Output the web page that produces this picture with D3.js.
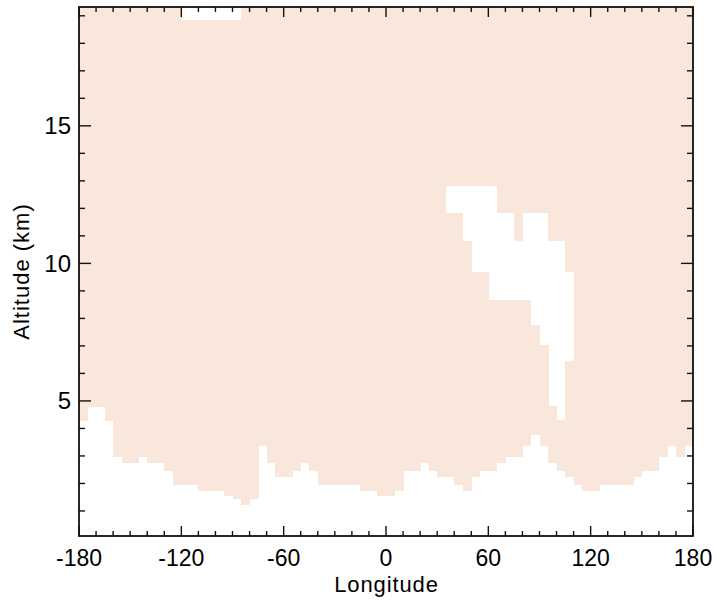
<!DOCTYPE html>
<html>
<head>
<meta charset="utf-8">
<script src="https://cdn.jsdelivr.net/npm/d3@7"></script>
<style>
  html, body { margin: 0; padding: 0; background: #ffffff; }
  svg { display: block; }
  text { font-family: "Liberation Sans", Arial, Helvetica, sans-serif; fill: #000; }
</style>
</head>
<body>
<svg id="chart" width="717" height="600"></svg>
<script>
// ---------------- DATA ----------------
// Longitude bins (start of each 5° bin)
const binStart = [-180,-175,-170,-165,-160,-155,-150,-145,-140,-135,-130,-125,-120,-115,-110,-105,-100,-95,
  -90,-85,-80,-75,-70,-65,-60,-55,-50,-45,-40,-35,-30,-25,-20,-15,-10,-5,
  0,5,10,15,20,25,30,35,40,45,50,55,60,65,70,75,80,85,
  90,95,100,105,110,115,120,125,130,135,140,145,150,155,160,165,170,175];
const binWidth = 5;
// Lowest altitude (km) of the shaded region in each bin (surface / lower limit)
const surfaceAlt = [4.30,4.81,4.81,4.30,2.99,2.78,2.78,2.99,2.78,2.78,2.48,1.97,1.97,1.97,1.75,1.75,1.75,1.57,
  1.47,1.25,1.47,3.39,2.78,2.26,2.26,2.48,2.78,2.48,1.97,1.97,1.97,1.97,1.97,1.75,1.75,1.57,
  1.57,1.75,2.48,2.48,2.78,2.48,2.26,2.26,1.97,1.75,2.26,2.48,2.48,2.78,2.99,2.99,3.39,3.79,
  3.39,2.78,2.48,2.26,1.97,1.75,1.75,1.97,1.97,1.97,1.97,2.26,2.48,2.48,2.99,3.39,2.99,3.39];
// Unshaded gap in the upper region
const gapLon    = [35,40,45,50,55,60,65,70,75,80,85,90,95,100,105];
const gapBottom = [11.84,11.84,10.82,9.69,9.69,8.67,8.67,8.67,8.67,8.67,7.76,7.03,4.81,4.30,6.45];
const gapTop    = [12.82,12.82,12.82,12.82,12.82,12.82,11.84,11.84,10.82,11.84,11.84,11.84,10.82,10.82,9.69];
// Unshaded strip at the top
const topGapLon = [-120,-115,-110,-105,-100,-95,-90];
const topGapBottom = 18.83;

const xTicks = [-180,-120,-60,0,60,120,180];
const yTicks = [5,10,15];
const xMinor = d3.range(-180, 181, 10);
const yMinor = d3.range(1, 20, 1);
const xDomain = [-180, 180];
const yDomain = [0.09, 19.32];

// ---------------- LAYOUT ----------------
const L = 79, R = 693, T = 7, B = 536;
const fillColor = "#fae7dc";

const svg = d3.select("#chart");
const x = d3.scaleLinear().domain(xDomain).range([L, R]);
const y = d3.scaleLinear().domain(yDomain).range([B, T]);

// build shaded segments from data
const segs = [];
binStart.forEach((lon, i) => {
  let top = topGapLon.includes(lon) ? topGapBottom : yDomain[1];
  const gi = gapLon.indexOf(lon);
  if (gi >= 0) {
    segs.push({lon, lo: surfaceAlt[i], hi: gapBottom[gi]});
    segs.push({lon, lo: gapTop[gi], hi: top});
  } else {
    segs.push({lon, lo: surfaceAlt[i], hi: top});
  }
});

svg.append("g")
  .attr("shape-rendering", "crispEdges")
  .selectAll("rect").data(segs).join("rect")
  .attr("x", d => x(d.lon))
  .attr("width", d => x(d.lon + binWidth) - x(d.lon) + 0.5)
  .attr("y", d => y(d.hi))
  .attr("height", d => y(d.lo) - y(d.hi) + 0.5)
  .attr("fill", fillColor);

// ---------------- AXES ----------------
const axisG = svg.append("g").attr("stroke", "#111").attr("stroke-width", 1.4);
const majX = 10, minX = 5, majY = 12, minY = 6;

xMinor.forEach(v => {
  const len = xTicks.includes(v) ? majX : minX;
  axisG.append("line").attr("x1", x(v)).attr("x2", x(v)).attr("y1", B).attr("y2", B - len);
  axisG.append("line").attr("x1", x(v)).attr("x2", x(v)).attr("y1", T).attr("y2", T + len);
});
yMinor.forEach(v => {
  const len = yTicks.includes(v) ? majY : minY;
  axisG.append("line").attr("y1", y(v)).attr("y2", y(v)).attr("x1", L).attr("x2", L + len);
  axisG.append("line").attr("y1", y(v)).attr("y2", y(v)).attr("x1", R).attr("x2", R - len);
});

svg.append("rect")
  .attr("x", L).attr("y", T).attr("width", R - L).attr("height", B - T)
  .attr("fill", "none").attr("stroke", "#111").attr("stroke-width", 1.8);

svg.append("g").selectAll("text").data(xTicks).join("text")
  .attr("x", d => x(d)).attr("y", 566)
  .attr("text-anchor", "middle").attr("font-size", 23)
  .text(d => d);

svg.append("g").selectAll("text").data(yTicks).join("text")
  .attr("x", 71).attr("y", d => y(d) + 8.5)
  .attr("text-anchor", "end").attr("font-size", 24)
  .text(d => d);

svg.append("text")
  .attr("x", (L + R) / 2 + 0.5).attr("y", 592)
  .attr("text-anchor", "middle").attr("font-size", 22)
  .attr("letter-spacing", 0.9)
  .text("Longitude");

svg.append("text")
  .attr("transform", `translate(29,${(T + B) / 2}) rotate(-90)`)
  .attr("text-anchor", "middle").attr("font-size", 22)
  .attr("letter-spacing", 1)
  .text("Altitude (km)");
</script>
</body>
</html>
